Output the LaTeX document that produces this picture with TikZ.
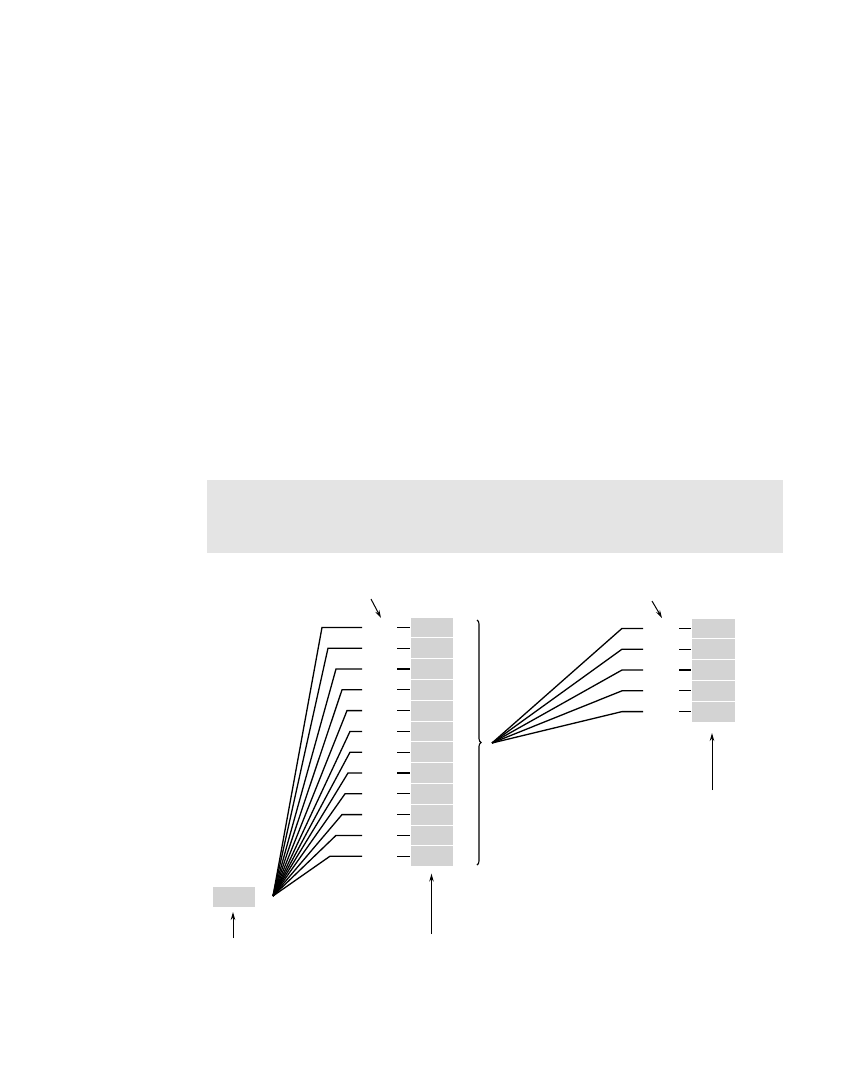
\documentclass[tikz,border=0pt]{standalone}
\usetikzlibrary{decorations.pathreplacing,arrows.meta}
\definecolor{band}{HTML}{E4E4E4}
\definecolor{cell}{HTML}{D3D3D3}
\tikzset{
  cellbox/.style={fill=cell,draw=white,line width=1pt,minimum width=43pt,minimum height=20.8pt,inner sep=0pt,outer sep=0pt},
  wire/.style={line width=1.3pt,line join=miter},
  pointer/.style={line width=1pt,-{Stealth[length=8pt,width=4.5pt]}}
}
\begin{document}
\begin{tikzpicture}[x=1pt,y=-1pt]
\useasboundingbox (0,0) rectangle (864,1080);
% top band
\fill[band] (207,480) rectangle (783,553);
% left stack
\foreach \i in {0,...,11}{
  \node[cellbox] (L\i) at (431.5,{627.4+20.8*\i}) {};
  \coordinate (Ls\i) at (397,{627.4+20.8*\i});
  \coordinate (Le\i) at (362,{627.4+20.8*\i});
}
\foreach \i in {0,...,11}{ \draw[wire] (Ls\i) -- (L\i.west); }
% left fan
\coordinate (hubL) at (273,896);
\foreach \i/\k in {0/322,1/328,2/336,3/342,4/347,5/350,6/350,7/348,8/345,9/342,10/336,11/330}{
  \coordinate (Lk\i) at (\k,{627.4+20.8*\i});
  \draw[wire] (hubL) -- (Lk\i) -- (Le\i);
}
% small box bottom left
\node[cellbox,minimum width=43pt,minimum height=21pt] (S) at (233.5,896.5) {};
\coordinate (Sa) at (233,938);
\draw[pointer,shorten >=5pt] (Sa) -- (S.south -| Sa);
% arrow under left stack
\coordinate (La) at (431.5,934);
\draw[pointer,shorten >=7pt] (La) -- (L11.south -| La);
% small arrow at top of left stack
\coordinate (ta1) at (371,599);
\coordinate (ta2) at (381,618);
\draw[pointer] (ta1) -- (ta2);
% brace
\coordinate (b1) at (477,620);
\coordinate (b2) at (477,865);
\draw[line width=1.1pt,decorate,decoration={brace,amplitude=4pt}] (b1) -- (b2);
% right stack
\foreach \i in {0,...,4}{
  \node[cellbox,minimum width=44pt] (R\i) at (713,{628.4+20.8*\i}) {};
  \coordinate (Rs\i) at (679,{628.4+20.8*\i});
  \coordinate (Re\i) at (643,{628.4+20.8*\i});
  \coordinate (Rk\i) at (622,{628.4+20.8*\i});
}
\foreach \i in {0,...,4}{ \draw[wire] (Rs\i) -- (R\i.west); }
\coordinate (hubR) at (492,743);
\foreach \i in {0,...,4}{ \draw[wire] (hubR) -- (Rk\i) -- (Re\i); }
% right arrow
\coordinate (Ra) at (712,790);
\draw[pointer,shorten >=11pt] (Ra) -- (R4.south -| Ra);
% small arrow top right
\coordinate (tb1) at (652,601);
\coordinate (tb2) at (662,618);
\draw[pointer] (tb1) -- (tb2);
\end{tikzpicture}
\end{document}
